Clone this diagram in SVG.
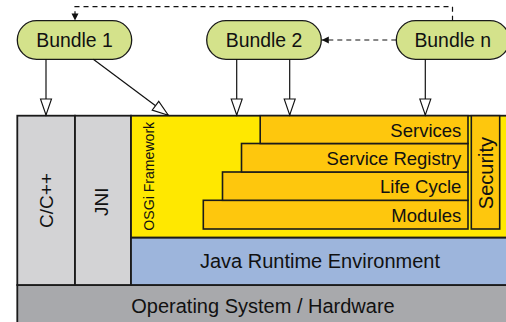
<svg xmlns="http://www.w3.org/2000/svg" width="506" height="322" viewBox="0 0 506 322">
<style>
text{font-family:"Liberation Sans",Arial,Helvetica,sans-serif;fill:#111}
.bx{stroke:#1a1a1a;stroke-width:1.8}
.bundle{fill:#d4e28b;stroke:#1a1a1a;stroke-width:1.3}
.lyr{fill:#fec70d;stroke:#1a1a1a;stroke-width:1.6}
.con{fill:none;stroke:#111;stroke-width:1.2}
.dash{fill:none;stroke:#111;stroke-width:1.2;stroke-dasharray:5,4}
.bt{font-size:19.4px;text-anchor:middle}
.lt{font-size:18.5px;text-anchor:end}
</style>
<defs>
<marker id="hollow" markerUnits="userSpaceOnUse" markerWidth="18" markerHeight="13" refX="16" refY="5.5" orient="auto" overflow="visible">
<path d="M0,0 L16,5.5 L0,11 z" fill="#fff" stroke="#111" stroke-width="1.1"/>
</marker>
<marker id="filled" markerUnits="userSpaceOnUse" markerWidth="9" markerHeight="9" refX="7" refY="3.5" orient="auto" overflow="visible">
<path d="M0,0 L7,3.5 L0,7 z" fill="#111"/>
</marker>
</defs>

<g id="os">
<rect class="bx" x="17.3" y="285" width="495" height="45" fill="#a8a9ac"/>
<text x="263" y="312.7" font-size="20" text-anchor="middle">Operating System / Hardware</text>
</g>
<g id="cpp">
<rect class="bx" x="17.3" y="115.7" width="57.7" height="169.3" fill="#d3d3d5"/>
<text transform="translate(52.5,200.5) rotate(-90)" font-size="19" text-anchor="middle">C/C++</text>
</g>
<g id="jni">
<rect class="bx" x="75" y="115.7" width="56" height="169.3" fill="#d3d3d5"/>
<text transform="translate(108.3,201.7) rotate(-90)" font-size="19" text-anchor="middle">JNI</text>
</g>
<g id="jre">
<rect class="bx" x="131" y="237.5" width="381" height="47.5" fill="#9db5dc"/>
<text x="320" y="268.3" font-size="20" text-anchor="middle">Java Runtime Environment</text>
</g>
<g id="osgi">
<rect class="bx" x="131" y="115.7" width="381" height="121.8" fill="#ffe800"/>
<text transform="translate(154.3,230.7) rotate(-90)" font-size="14.1">OSGi Framework</text>
</g>
<g id="modules">
<rect class="lyr" x="203.3" y="200.3" width="264.7" height="28.7"/>
<text class="lt" x="461.3" y="221.7">Modules</text>
</g>
<g id="lifecycle">
<rect class="lyr" x="222.5" y="172" width="245.5" height="28.3"/>
<text class="lt" x="461.3" y="193.3">Life Cycle</text>
</g>
<g id="registry">
<rect class="lyr" x="241.5" y="143.5" width="226.5" height="28.5"/>
<text class="lt" x="461.3" y="165">Service Registry</text>
</g>
<g id="services">
<rect class="lyr" x="260.2" y="115.7" width="207.8" height="27.8"/>
<text class="lt" x="461.3" y="136.7">Services</text>
</g>
<g id="security">
<rect class="lyr" x="471.3" y="115.7" width="28.4" height="113.3"/>
<text transform="translate(492.5,173) rotate(-90)" font-size="20" text-anchor="middle">Security</text>
</g>

<g id="bundle1">
<rect class="bundle" x="17.3" y="20.7" width="114.4" height="38.6" rx="19.3"/>
<text class="bt" x="74.5" y="46.7">Bundle 1</text>
</g>
<g id="bundle2">
<rect class="bundle" x="206.7" y="20.7" width="114.6" height="38.6" rx="19.3"/>
<text class="bt" x="264" y="46.7">Bundle 2</text>
</g>
<g id="bundlen">
<rect class="bundle" x="396.3" y="20.7" width="113" height="38.6" rx="19.3"/>
<text class="bt" x="452.7" y="46.7">Bundle n</text>
</g>

<g id="connectors">
<line class="con" x1="46" y1="59.3" x2="46" y2="115" marker-end="url(#hollow)"/>
<line class="con" x1="93.3" y1="59.3" x2="168.3" y2="115.3" marker-end="url(#hollow)"/>
<line class="con" x1="236.7" y1="59.3" x2="236.7" y2="115" marker-end="url(#hollow)"/>
<line class="con" x1="289.7" y1="59.3" x2="289.7" y2="115" marker-end="url(#hollow)"/>
<line class="con" x1="425.3" y1="59.3" x2="425.3" y2="115" marker-end="url(#hollow)"/>
<path class="dash" d="M452.5,20.7 L452.5,6.7 L75,6.7 L75,20.5" marker-end="url(#filled)"/>
<path class="dash" d="M396.3,40 L321.8,40" marker-end="url(#filled)"/>
</g>
</svg>
